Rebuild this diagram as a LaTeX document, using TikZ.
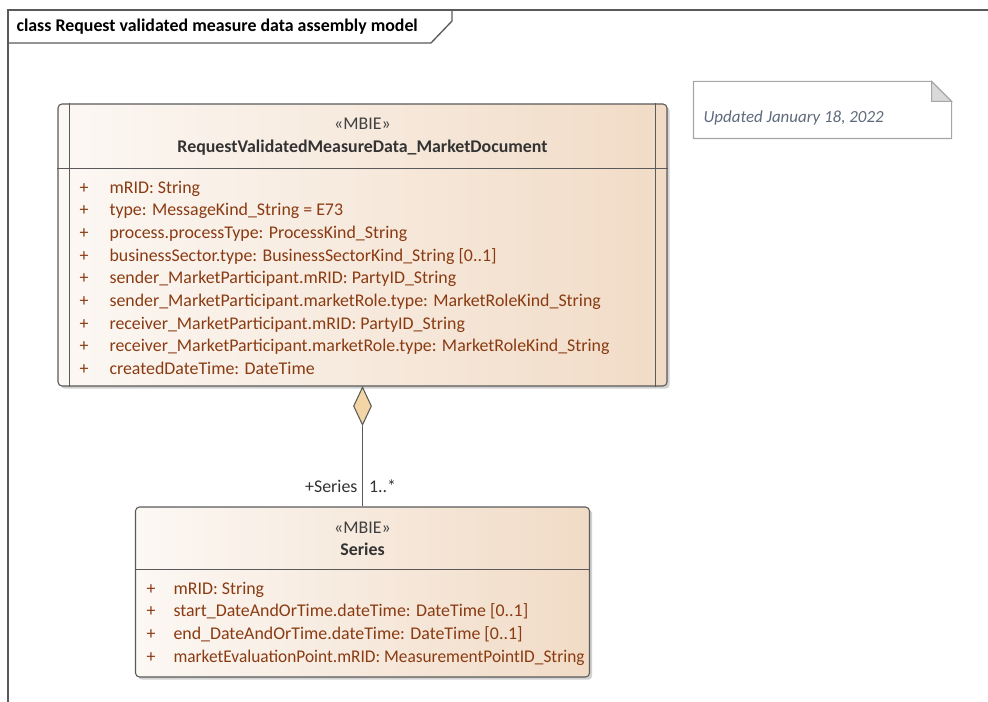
\documentclass[tikz,border=0pt]{standalone}
\usepackage{fontspec}
\setmainfont{Carlito}
\usetikzlibrary{positioning,calc,shapes.geometric,shadows}

\definecolor{boxlight}{HTML}{FCF8F4}
\definecolor{boxdark}{HTML}{F1DBC6}
\definecolor{boxline}{HTML}{5A5A5A}
\definecolor{attrtext}{HTML}{8A3B12}
\definecolor{notetext}{HTML}{5F6A7C}
\definecolor{noteline}{HTML}{A6A6A6}
\definecolor{aggfill}{HTML}{F3D5A6}

\begin{document}
\begin{tikzpicture}[x=0.75pt,y=-0.75pt,line width=0.8pt,
  every node/.style={font=\fontsize{13.4}{17}\selectfont,inner sep=0pt},
  classbox/.style={draw=boxline,rounded corners=3pt,left color=boxlight,right color=boxdark,
    drop shadow={shadow xshift=2pt,shadow yshift=-2pt,opacity=0.3,fill=black!60}},
  stereo/.style={anchor=base,text=black!75},
  cname/.style={anchor=base,font=\fontsize{13.4}{17}\selectfont\bfseries,text=black!80},
  attrs/.style={anchor=base west,align=left,text=attrtext}]
\useasboundingbox (0,0) rectangle (988,702);

% frame and title tab
\draw[boxline,line width=1pt] (8,702) -- (8,10) -- (988,10);
\draw[boxline,line width=1pt] (8,43) -- (431,43) -- (452,21) -- (452,10);
\node[anchor=base west,font=\fontsize{13.4}{17}\selectfont\bfseries] (title) at (16,31.5) {class Request validated measure data assembly model};

% note
\node[minimum width=192.75pt,minimum height=42pt] (note) at (822.5,110) {};
\draw[noteline] (note.south west) -- (note.north west) -- ([xshift=-15pt]note.north east)
  -- ([yshift=-15pt]note.north east) -- (note.south east) -- cycle;
\draw[noteline,fill=black!15] ([xshift=-15pt]note.north east) -- ([xshift=-15pt,yshift=-15pt]note.north east)
  -- ([yshift=-15pt]note.north east) -- cycle;
\node[anchor=base west,font=\fontsize{12.7}{17}\selectfont\itshape,text=notetext] (notetxt) at (703,123) {Updated January 18, 2022};

% market document class (base anchor = last line)
\node[classbox,minimum width=456.75pt,minimum height=211.5pt] (doc) at (362.5,245) {};
\draw[boxline] ([xshift=9pt]doc.north west) -- ([xshift=9pt]doc.south west);
\draw[boxline] ([xshift=-9pt]doc.north east) -- ([xshift=-9pt]doc.south east);
\draw[boxline] ([yshift=-48.75pt]doc.north west) -- ([yshift=-48.75pt]doc.north east);
\node[stereo] (docster) at (362.5,130) {«MBIE»};
\node[cname] (docname) at (362.5,153) {RequestValidatedMeasureData\_MarketDocument};
\node[attrs] (docplus) at (79,374.5) {+\\+\\+\\+\\+\\+\\+\\+\\+};
\node[attrs] (docattr) at (109,374.5) {mRID: String\\
  type: MessageKind\_String = E73\\
  process.processType: ProcessKind\_String\\
  businessSector.type: BusinessSectorKind\_String [0..1]\\
  sender\_MarketParticipant.mRID: PartyID\_String\\
  sender\_MarketParticipant.marketRole.type: MarketRoleKind\_String\\
  receiver\_MarketParticipant.mRID: PartyID\_String\\
  receiver\_MarketParticipant.marketRole.type: MarketRoleKind\_String\\
  createdDateTime: DateTime};

% series class
\node[classbox,minimum width=340.5pt,minimum height=127.5pt] (series) at (362.5,592) {};
\draw[boxline] ([yshift=-47.25pt]series.north west) -- ([yshift=-47.25pt]series.north east);
\node[stereo] (serster) at (362.5,533) {«MBIE»};
\node[cname] (sername) at (362.5,555) {Series};
\node[attrs] (serplus) at (146,662) {+\\+\\+\\+};
\node[attrs] (serattr) at (173,662) {mRID: String\\
  start\_DateAndOrTime.dateTime: DateTime [0..1]\\
  end\_DateAndOrTime.dateTime: DateTime [0..1]\\
  \scalebox{0.97}[1]{marketEvaluationPoint.mRID: MeasurementPointID\_String}};

% aggregation
\node[diamond,draw=boxline,fill=aggfill,minimum width=13.5pt,minimum height=28.5pt,anchor=north] (agg) at (doc.south) {};
\draw[boxline] (agg.south) -- (series.north);
\node[anchor=base east,text=black!80] (role) at ([xshift=-3.4pt,yshift=10.5pt]series.north) {+Series};
\node[anchor=base west,text=black!80] (mult) at ([xshift=4.5pt,yshift=10.5pt]series.north) {1..*};
\end{tikzpicture}
\end{document}
